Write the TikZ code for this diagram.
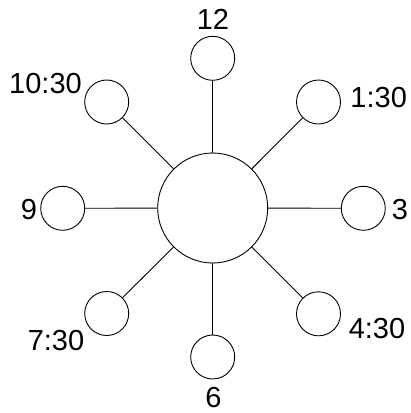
\documentclass[tikz,border=0pt]{standalone}
\usepackage{fontspec}
\setmainfont{Liberation Sans}
\begin{document}
\begin{tikzpicture}[x=1pt,y=-1pt,
  hub/.style={circle,draw,line width=0.9pt,minimum size=110pt,inner sep=0pt},
  leaf/.style={circle,draw,line width=0.9pt,minimum size=44pt,inner sep=0pt},
  lbl/.style={inner sep=0pt,font=\fontsize{29}{31}\selectfont},
  spoke/.style={line width=0.9pt}]
\useasboundingbox (0,0) rectangle (411,413);
\node[hub] (c) at (212.7,208) {};
\node[leaf] (n12) at (212.7,58.3) {};
\node[leaf] (n130) at (318.5,102) {};
\node[leaf] (n3) at (363.3,208.3) {};
\node[leaf] (n430) at (318.5,313.8) {};
\node[leaf] (n6) at (212.7,357) {};
\node[leaf] (n730) at (106.7,313.5) {};
\node[leaf] (n9) at (62.7,208.3) {};
\node[leaf] (n1030) at (106.7,102) {};
\foreach \n in {n12,n130,n3,n430,n6,n730,n9,n1030} \draw[spoke] (c) -- (\n);
\node[lbl] (t12) at (213,19.2) {12};
\node[lbl] (t130) at (378.7,97.5) {1:30};
\node[lbl] (t3) at (400,210) {3};
\node[lbl] (t430) at (377,329) {4:30};
\node[lbl] (t6) at (213.5,397.5) {6};
\node[lbl] (t730) at (56,341) {7:30};
\node[lbl] (t9) at (29,209.5) {9};
\node[lbl] (t1030) at (45.5,84) {10:30};
\end{tikzpicture}
\end{document}
